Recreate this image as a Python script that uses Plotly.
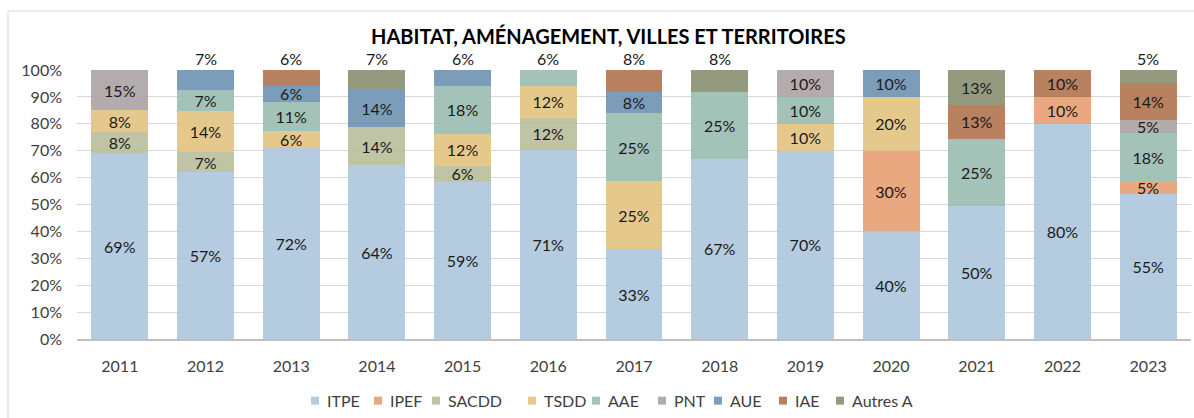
import plotly.graph_objects as go

years = ["2011", "2012", "2013", "2014", "2015", "2016", "2017", "2018", "2019", "2020", "2021", "2022", "2023"]

series_names = ["ITPE", "IPEF", "SACDD", "TSDD", "AAE", "PNT", "AUE", "IAE", "Autres A"]

ITPE     = [69, 57, 72, 64, 59, 71, 33, 67, 70, 40, 50, 80, 55]
IPEF     = [None, None, None, None, None, None, None, None, None, 30, None, 10, 5]
SACDD    = [8, 7, None, 14, 6, 12, None, None, None, None, None, None, None]
TSDD     = [8, 14, 6, None, 12, 12, 25, None, 10, 20, None, None, None]
AAE      = [None, 7, 11, None, 18, 6, 25, 25, 10, None, 25, None, 18]
PNT      = [15, None, None, None, None, None, None, None, 10, None, None, None, 5]
AUE      = [None, 7, 6, 14, 6, None, 8, None, None, 10, None, None, None]
IAE      = [None, None, 6, None, None, None, 8, None, None, None, 13, 10, 14]
AUTRES_A = [None, None, None, 7, None, None, None, 8, None, None, 13, None, 5]

series_values = [ITPE, IPEF, SACDD, TSDD, AAE, PNT, AUE, IAE, AUTRES_A]

y_ticks = list(range(0, 101, 10))
y_tick_labels = [f"{t}%" for t in y_ticks]

# colours as seen on white
colors = ["#B4CBE0", "#E9A87F", "#BFC4A4", "#E5C98C", "#A3C2B8",
          "#B4ACAB", "#7B9DBA", "#B88160", "#949A7E"]
BAR_OPACITY = 0.88


def base_color(hexc, a=BAR_OPACITY):
    # colour that, drawn at opacity a over white, looks like hexc
    r, g, b = (int(hexc[k:k + 2], 16) for k in (1, 3, 5))
    f = lambda c: max(0, min(255, round((c - (1 - a) * 255) / a)))
    return "#%02X%02X%02X" % (f(r), f(g), f(b))


TITLE = "HABITAT, AMÉNAGEMENT, VILLES ET TERRITOIRES"
FONT = "Lato"
TXT = "#1a1a1a"
AX = "#404040"

# plot-area geometry in pixels
PL, PR, PT, PB = 77, 1191, 70, 339.3
W, H = 1194, 418


def px_x(px):
    return (px - PL) / (PR - PL)


def px_y(py):
    return (PB - py) / (PB - PT)


# top segment of each stack; small ones get their label above the bar
top_idx = []
for j in range(len(years)):
    last = None
    for i, vals in enumerate(series_values):
        if vals[j] is not None:
            last = i
    top_idx.append(last)

fig = go.Figure()
annotations = []
for i, (name, vals, col) in enumerate(zip(series_names, series_values, colors)):
    texts = []
    for j, v in enumerate(vals):
        if v is None:
            texts.append("")
        elif top_idx[j] == i and v < 10:
            texts.append("")
            annotations.append(dict(x=j, y=100, xref="x", yref="y",
                                    text=f"{v}%", showarrow=False,
                                    yanchor="bottom", yshift=0,
                                    font=dict(family=FONT, size=16, color=TXT)))
        else:
            texts.append(f"{v}%")
    fig.add_trace(go.Bar(
        name=name, x=years, y=vals, text=texts,
        marker=dict(color=base_color(col), opacity=BAR_OPACITY, line=dict(width=0)),
        textposition="inside", insidetextanchor="middle", textangle=0,
        constraintext="none",
        textfont=dict(family=FONT, size=16, color=TXT),
        hoverinfo="skip", showlegend=False,
    ))

# title
annotations.append(dict(text="<b>" + TITLE + "</b>", xref="paper", yref="paper",
                        x=px_x(608), y=px_y(36),
                        xanchor="center", yanchor="middle", showarrow=False,
                        font=dict(family=FONT, size=20, color="#000000")))

# legend (square swatch + label), laid out like the original
legend_left_px = [311, 374, 432, 528, 592, 658, 714, 779, 836]
legend_cy = 401
shapes = [dict(type="rect", xref="paper", yref="paper",
               x0=px_x(8), x1=px_x(1200), y0=px_y(430), y1=px_y(11),
               line=dict(color="#D9D9D9", width=1), layer="below")]
for name, col, lx in zip(series_names, colors, legend_left_px):
    shapes.append(dict(type="rect", xref="paper", yref="paper",
                       x0=px_x(lx), x1=px_x(lx + 8),
                       y0=px_y(legend_cy + 4), y1=px_y(legend_cy - 4),
                       fillcolor=col, line=dict(width=0)))
    annotations.append(dict(text=name, xref="paper", yref="paper",
                            x=px_x(lx + 14), y=px_y(legend_cy),
                            xanchor="left", yanchor="middle", showarrow=False,
                            font=dict(family=FONT, size=16, color=AX)))

fig.update_layout(
    width=W, height=H,
    margin=dict(l=PL, r=W - PR, t=PT, b=H - PB, autoexpand=False),
    barmode="stack", barnorm="percent", bargap=0.335,
    plot_bgcolor="white", paper_bgcolor="white",
    font=dict(family=FONT, size=16, color=AX),
    showlegend=False,
    annotations=annotations,
    shapes=shapes,
)
fig.update_xaxes(type="category", range=[-0.5, len(years) - 0.5],
                 showline=True, linecolor="#BFBFBF", linewidth=1.5,
                 showgrid=False, ticks="", ticklabelstandoff=12,
                 tickfont=dict(family=FONT, size=16, color=AX))
fig.update_yaxes(range=[0, 100], tickmode="array", tickvals=y_ticks, ticktext=y_tick_labels,
                 showgrid=True, gridcolor="#D9D9D9", gridwidth=1, zeroline=False,
                 showline=False, ticks="", ticklabelstandoff=14,
                 tickfont=dict(family=FONT, size=16, color=AX))

fig.write_html("out.html", config={"displayModeBar": False},
               post_script="document.body.style.margin='0';")
